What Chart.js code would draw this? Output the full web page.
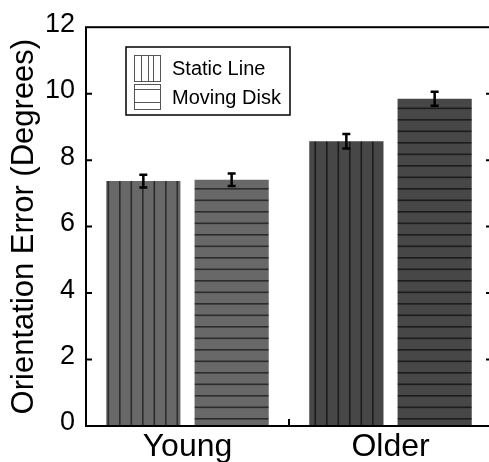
<!DOCTYPE html>
<html>
<head>
<meta charset="utf-8">
<script src="https://cdn.jsdelivr.net/npm/chart.js@4.4.1/dist/chart.umd.min.js"></script>
<style>
    html, body { margin: 0; padding: 0; background: #fff; overflow: hidden; }
</style>
</head>
<body>
<canvas id="grafico" width="495" height="462"></canvas>
<script>
// Dados
const grupos = ["Young", "Older"];
const rotulosSeries = ["Static Line", "Moving Disk"];
const staticLine = [7.37, 8.57];
const movingDisk = [7.41, 9.85];
const erroStatic = [0.19, 0.22];
const erroMoving = [0.19, 0.21];
const ticksY = [0, 2, 4, 6, 8, 10, 12];

const fonte = "'Liberation Sans', Arial, sans-serif";

// Cria um padrão de listras (vertical ou horizontal)
function listras(fundo, linha, vertical) {
    const c = document.createElement("canvas");
    c.width = vertical ? 23 : 4;
    c.height = vertical ? 4 : 23;
    const g = c.getContext("2d");
    g.fillStyle = fundo;
    g.fillRect(0, 0, c.width, c.height);
    g.fillStyle = linha;
    if (vertical) {
        g.fillRect(4, 0, 1.6, c.height);
        g.fillRect(15.5, 0, 1.6, c.height);
    } else {
        g.fillRect(0, 4, c.width, 1.6);
        g.fillRect(0, 15.5, c.width, 1.6);
    }
    return document.createElement("canvas").getContext("2d").createPattern(c, "repeat");
}

const corJovem = "#686868";
const corIdoso = "#474747";

// Barras de erro
const pluginErro = {
    id: "erro",
    afterDatasetsDraw(chart) {
        const ctx = chart.ctx;
        const y = chart.scales.y;
        const erros = [erroStatic, erroMoving];
        ctx.save();
        ctx.strokeStyle = "#000";
        ctx.lineWidth = 2.5;
        chart.data.datasets.forEach((ds, i) => {
            chart.getDatasetMeta(i).data.forEach((bar, j) => {
                const v = ds.data[j];
                const e = erros[i][j];
                const yTop = y.getPixelForValue(v + e);
                const yBot = y.getPixelForValue(v - e);
                ctx.beginPath();
                ctx.moveTo(bar.x, yTop);
                ctx.lineTo(bar.x, yBot);
                ctx.moveTo(bar.x - 4, yTop);
                ctx.lineTo(bar.x + 4, yTop);
                ctx.moveTo(bar.x - 4, yBot);
                ctx.lineTo(bar.x + 4, yBot);
                ctx.stroke();
            });
        });
        ctx.restore();
    }
};

// Moldura e marcas dos eixos
const pluginMoldura = {
    id: "moldura",
    afterDatasetsDraw(chart) {
        const ctx = chart.ctx;
        const a = chart.chartArea;
        const y = chart.scales.y;
        const x = chart.scales.x;
        ctx.save();
        ctx.strokeStyle = "#000";
        ctx.lineWidth = 2;
        ctx.strokeRect(a.left, a.top, a.right - a.left, a.bottom - a.top);
        ticksY.slice(1, -1).forEach(v => {
            const py = y.getPixelForValue(v);
            ctx.beginPath();
            ctx.moveTo(a.left, py);
            ctx.lineTo(a.left + 6, py);
            ctx.moveTo(a.right, py);
            ctx.lineTo(a.right - 6, py);
            ctx.stroke();
        });
        const meio = (x.getPixelForValue(0) + x.getPixelForValue(1)) / 2;
        ctx.beginPath();
        ctx.moveTo(meio, a.bottom);
        ctx.lineTo(meio, a.bottom - 7);
        ctx.stroke();
        ctx.restore();
    }
};

// Legenda dentro da área do gráfico
const pluginLegenda = {
    id: "legendaInterna",
    afterDraw(chart) {
        const ctx = chart.ctx;
        const bx = 126, by = 47, bw = 164, bh = 68;
        ctx.save();
        ctx.fillStyle = "#fff";
        ctx.fillRect(bx, by, bw, bh);
        ctx.strokeStyle = "#000";
        ctx.lineWidth = 1.5;
        ctx.strokeRect(bx, by, bw, bh);

        ctx.strokeStyle = "#555";
        ctx.lineWidth = 1;
        // amostra vertical
        ctx.strokeRect(134.5, 55.5, 26, 26);
        ctx.beginPath();
        [141, 148, 153].forEach(px => { ctx.moveTo(px + 0.5, 55.5); ctx.lineTo(px + 0.5, 81.5); });
        ctx.stroke();
        // amostra horizontal
        ctx.strokeRect(134.5, 84.5, 26, 25);
        ctx.beginPath();
        [89, 102].forEach(py => { ctx.moveTo(134.5, py + 0.5); ctx.lineTo(160.5, py + 0.5); });
        ctx.stroke();

        ctx.fillStyle = "#000";
        ctx.font = "20px " + fonte;
        ctx.textBaseline = "middle";
        ctx.fillText(rotulosSeries[0], 172, 69);
        ctx.fillText(rotulosSeries[1], 172, 98);
        ctx.restore();
    }
};

new Chart(document.getElementById("grafico"), {
    type: "bar",
    data: {
        labels: grupos,
        datasets: [
            {
                label: rotulosSeries[0],
                data: staticLine,
                backgroundColor: [listras(corJovem, "#2c2c2c", true), listras(corIdoso, "#1c1c1c", true)],
                categoryPercentage: 0.87,
                barPercentage: 0.84
            },
            {
                label: rotulosSeries[1],
                data: movingDisk,
                backgroundColor: [listras(corJovem, "#2c2c2c", false), listras(corIdoso, "#1c1c1c", false)],
                categoryPercentage: 0.87,
                barPercentage: 0.84
            }
        ]
    },
    options: {
        responsive: false,
        animation: false,
        devicePixelRatio: 1,
        layout: { padding: { top: 27, right: 3, left: 0, bottom: 0 } },
        plugins: {
            legend: { display: false },
            tooltip: { enabled: false }
        },
        scales: {
            x: {
                grid: { display: false, drawTicks: false },
                border: { display: false },
                ticks: { color: "#000", font: { family: fonte, size: 32 }, padding: 2 },
                afterFit: s => { s.height = 36; }
            },
            y: {
                min: 0,
                max: 12,
                grid: { display: false, drawTicks: false },
                border: { display: false },
                ticks: { stepSize: 2, color: "#000", font: { family: fonte, size: 27 }, padding: 11, labelOffset: -3 },
                title: {
                    display: true,
                    text: "Orientation Error (Degrees)",
                    color: "#000",
                    font: { family: fonte, size: 31 },
                    padding: { top: 6, bottom: 0 }
                },
                afterFit: s => { s.width = 86; }
            }
        }
    },
    plugins: [pluginErro, pluginMoldura, pluginLegenda]
});
</script>
</body>
</html>
